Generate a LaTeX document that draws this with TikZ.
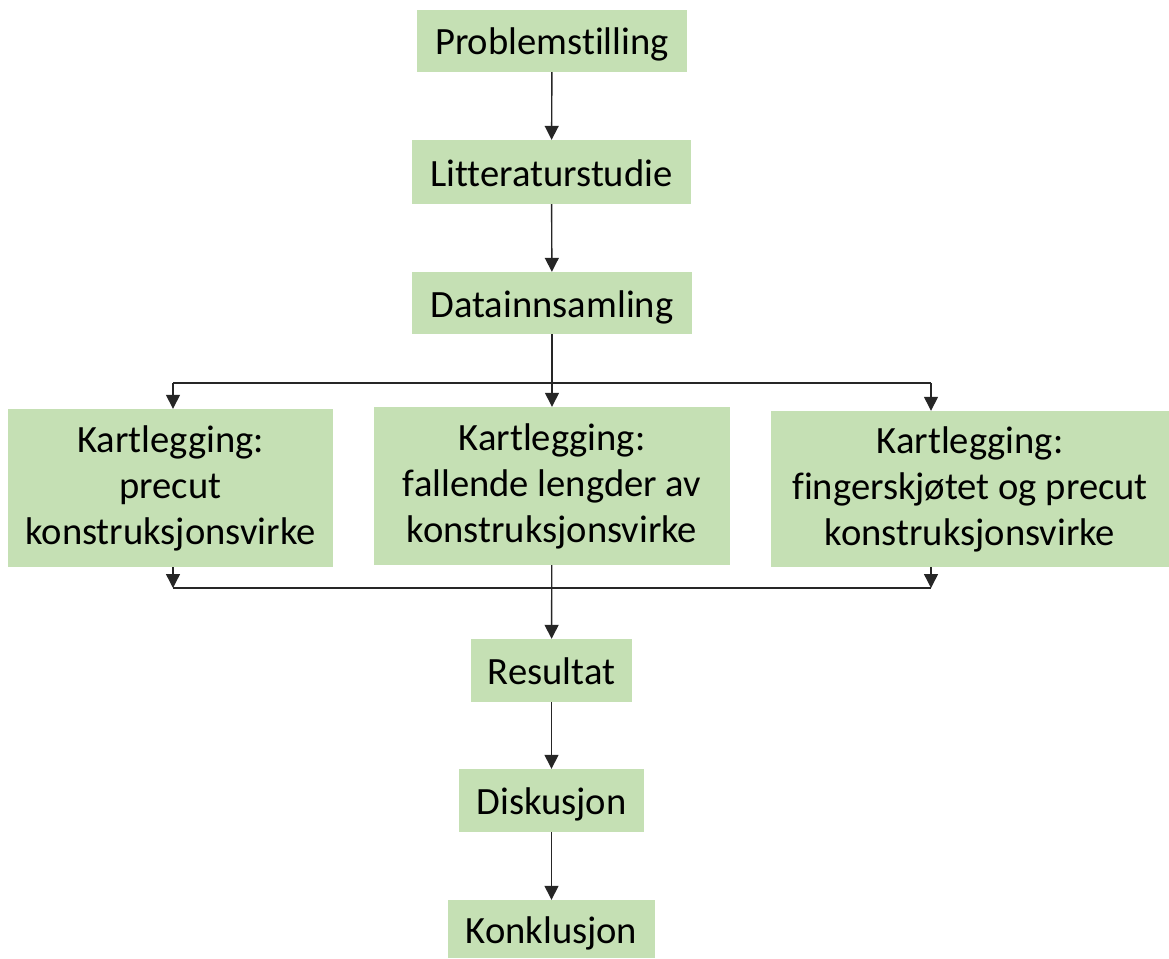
\documentclass[tikz,border=0pt]{standalone}
\usepackage{fontspec}
\setmainfont{Carlito}[Ligatures=NoCommon]
\usetikzlibrary{arrows.meta}
\definecolor{boxgreen}{HTML}{C5E0B4}
\definecolor{linegray}{HTML}{262626}
\tikzset{
  stepbox/.style={fill=boxgreen, draw=none, inner sep=0pt, align=center,
    font=\fontsize{38.6}{46}\selectfont},
  onebox/.style={stepbox, text height=38pt, text depth=10pt},
  conn/.style={draw=linegray, line width=1.4pt},
  arr/.style={conn, -{Triangle[width=14pt,length=14pt]}},
}
\begin{document}
\begin{tikzpicture}[x=1pt,y=-1pt]
\useasboundingbox (0,0) rectangle (1169,958);

% main column
\node[onebox, minimum width=270, minimum height=62] (prob) at (552,41) {Problemstilling};
\node[onebox, minimum width=279, minimum height=64] (lit) at (551.5,172) {Litteraturstudie};
\node[onebox, minimum width=280, minimum height=62] (data) at (552,303) {Datainnsamling};

% three mapping studies
\node[stepbox, minimum width=325, minimum height=158] (left) at (170.5,488) {Kartlegging:\\precut\\konstruksjonsvirke};
\node[stepbox, minimum width=356, minimum height=158] (mid) at (552,486) {Kartlegging:\\fallende lengder av\\konstruksjonsvirke};
\node[stepbox, minimum width=398, minimum height=156] (right) at (970,489) {Kartlegging:\\fingerskj\o tet og precut\\konstruksjonsvirke};

% results and conclusion
\node[onebox, minimum width=161, minimum height=63] (res) at (551.5,670.5) {Resultat};
\node[onebox, minimum width=185, minimum height=63] (disk) at (551.5,800.5) {Diskusjon};
\node[onebox, minimum width=207, minimum height=58] (konk) at (551.5,929) {Konklusjon};

% branching bus above and below the mapping boxes
\coordinate (busL) at (173,383);
\coordinate (busR) at (931,383);
\coordinate (joinL) at (173,588);
\coordinate (joinR) at (931,588);

\draw[arr] (prob) -- (lit);
\draw[arr] (lit) -- (data);
\draw[arr] (data) -- (mid);
\draw[conn] (busL) -- (busR);
\draw[arr] (busL) -- (busL |- left.north);
\draw[arr] (busR) -- (busR |- right.north);

\draw[arr] (joinL |- left.south) -- (joinL);
\draw[arr] (joinR |- right.south) -- (joinR);
\draw[conn] (joinL) -- (joinR);
\draw[arr] (mid) -- (res);

\draw[arr] (res) -- (disk);
\draw[arr] (disk) -- (konk);
\end{tikzpicture}
\end{document}
